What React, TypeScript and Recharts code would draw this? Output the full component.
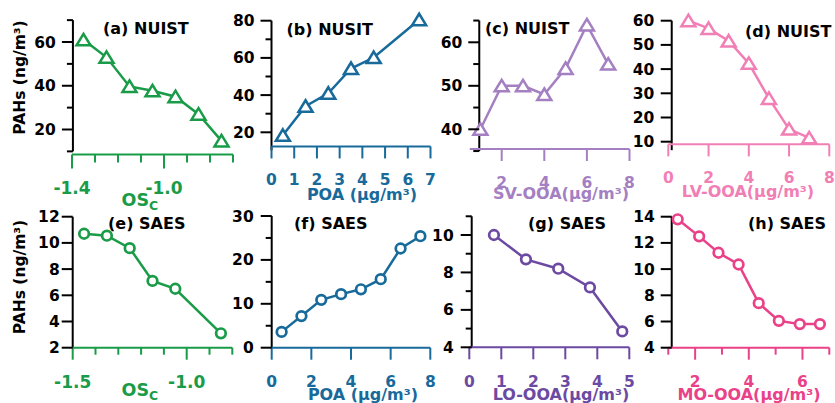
import React from "react";
import { LineChart, Line, XAxis, YAxis, ReferenceLine } from "recharts";

const W = 835;
const H = 403;
const FONT = "'DejaVu Sans', Verdana, sans-serif";

// ---- data ----
// (a) NUIST vs OSc
const osA = [-1.35, -1.25, -1.15, -1.05, -0.95, -0.85, -0.75];
const pahA = [61, 53, 39.7, 37.7, 35, 27, 14.8];
// (b) NUSIT vs POA
const poaB = [0.5, 1.5, 2.5, 3.5, 4.5, 6.5];
const pahB = [18.4, 34, 41, 54.3, 60.2, 80.5];
// (c) NUIST vs SV-OOA
const svC = [1, 2, 3, 4, 5, 6, 7];
const pahC = [40, 50, 50, 48, 54, 64, 55];
// (d) NUIST vs LV-OOA
const lvD = [1, 2, 3, 4, 5, 6, 7];
const pahD = [60, 56.8, 51.6, 42.4, 27.9, 15.2, 11.6];
// (e) SAES vs OSc
const osE = [-1.45, -1.35, -1.25, -1.15, -1.05, -0.85];
const pahE = [10.7, 10.55, 9.6, 7.1, 6.5, 3.1];
// (f) SAES vs POA
const poaF = [0.5, 1.5, 2.5, 3.5, 4.5, 5.5, 6.5, 7.5];
const pahF = [3.6, 7.2, 10.9, 12.2, 13.3, 15.6, 22.6, 25.4];
// (g) SAES vs LO-OOA
const loG = [0.77, 1.77, 2.78, 3.77, 4.78];
const pahG = [10, 8.7, 8.2, 7.2, 4.85];
// (h) SAES vs MO-OOA
const moH = [1.35, 2.15, 2.87, 3.62, 4.37, 5.12, 5.9, 6.65];
const pahH = [13.8, 12.5, 11.25, 10.35, 7.4, 6.05, 5.8, 5.8];

// ---- ticks ----
const ticksXA = [-1.4, -1.3, -1.2, -1.1, -1.0, -0.9, -0.8, -0.7];
const labelsXA = [-1.4, -1.0];
const ticksYA = [10, 20, 30, 40, 50, 60, 70];
const labelsYA = [20, 40, 60];
const ticksXB = [0, 1, 2, 3, 4, 5, 6, 7];
const ticksYB = [20, 30, 40, 50, 60, 70, 80];
const labelsYB = [20, 40, 60, 80];
const ticksXC = [2, 4, 6, 8];
const ticksYC = [35, 40, 45, 50, 55, 60, 65];
const labelsYC = [40, 50, 60];
const ticksXD = [0, 2, 4, 6, 8];
const ticksYD = [10, 20, 30, 40, 50, 60];
const ticksXE = [-1.5, -1.4, -1.3, -1.2, -1.1, -1.0, -0.9, -0.8];
const labelsXE = [-1.5, -1.0];
const ticksYE = [2, 4, 6, 8, 10, 12];
const ticksXF = [0, 2, 4, 6, 8];
const ticksYF = [0, 5, 10, 15, 20, 25, 30];
const labelsYF = [0, 10, 20, 30];
const ticksXG = [0, 1, 2, 3, 4, 5];
const ticksYG = [4, 5, 6, 7, 8, 9, 10, 11];
const labelsYG = [4, 6, 8, 10];
const ticksXH = [1, 2, 3, 4, 5, 6, 7];
const labelsXH = [2, 4, 6];
const ticksYH = [4, 6, 8, 10, 12, 14];

const GREEN = "#199b48";
const BLUE = "#186a9b";
const LILAC = "#a47fc2";
const PINK = "#f17fb5";
const PURPLE = "#6c4aa2";
const MAGENTA = "#e94289";

type Cal = [number, number, number, number];

interface PanelCfg {
  xs: number[];
  ys: number[];
  color: string;
  marker: "tri" | "circle";
  xCal: Cal;
  yCal: Cal;
  rect: [number, number, number, number];
  yAxisAt: number;
  yAxisSpan: [number, number];
  xAxisAt: number;
  xAxisSpan: [number, number];
  xTicks: number[];
  xLabeled: number[];
  yTicks: number[];
  yLabeled: number[];
  xMajorLen: number;
  xMinorLen: number;
  xLabelDy: number;
  xFont: number;
  yLabelGap: number;
  decimals: number;
}

function lin(cal: Cal) {
  const [v1, p1, v2, p2] = cal;
  const k = (p2 - p1) / (v2 - v1);
  return {
    toPx: (v: number) => p1 + (v - v1) * k,
    toVal: (p: number) => v1 + (p - p1) / k,
  };
}

const has = (arr: number[], v: number) => arr.some((a) => Math.abs(a - v) < 1e-6);

const panels: PanelCfg[] = [
  {
    xs: osA, ys: pahA, color: GREEN, marker: "tri",
    xCal: [-1.4, 72, -1.0, 164], yCal: [60, 42, 20, 129.5],
    rect: [62, 10, 240, 160],
    yAxisAt: -1.396, yAxisSpan: [10, 70], xAxisAt: 8.57, xAxisSpan: [-1.4, -0.7],
    xTicks: ticksXA, xLabeled: labelsXA, yTicks: ticksYA, yLabeled: labelsYA,
    xMajorLen: 14, xMinorLen: 8, xLabelDy: 39.5, xFont: 17, yLabelGap: 17, decimals: 1,
  },
  {
    xs: poaB, ys: pahB, color: BLUE, marker: "tri",
    xCal: [0, 271.5, 7, 430.5], yCal: [80, 20.7, 20, 132.3],
    rect: [262, 8, 440, 152],
    yAxisAt: 0, yAxisSpan: [10.3, 80], xAxisAt: 12.4, xAxisSpan: [0, 7],
    xTicks: ticksXB, xLabeled: ticksXB, yTicks: ticksYB, yLabeled: labelsYB,
    xMajorLen: 12, xMinorLen: 12, xLabelDy: 38.5, xFont: 15.5, yLabelGap: 17, decimals: 0,
  },
  {
    xs: svC, ys: pahC, color: LILAC, marker: "tri",
    xCal: [2, 501.7, 8, 629.5], yCal: [60, 42.3, 40, 129.3],
    rect: [462, 10, 640, 153],
    yAxisAt: 0.947, yAxisSpan: [35, 65], xAxisAt: 35.47, xAxisSpan: [0.5, 8],
    xTicks: ticksXC, xLabeled: ticksXC, yTicks: ticksYC, yLabeled: labelsYC,
    xMajorLen: 12, xMinorLen: 12, xLabelDy: 38.5, xFont: 15.5, yLabelGap: 17, decimals: 0,
  },
  {
    xs: lvD, ys: pahD, color: PINK, marker: "tri",
    xCal: [0, 668.3, 8, 829.3], yCal: [60, 20.7, 10, 141.7],
    rect: [660, 8, 835, 153],
    yAxisAt: 0.17, yAxisSpan: [6.5, 60], xAxisAt: 8.9, xAxisSpan: [0, 8],
    xTicks: ticksXD, xLabeled: ticksXD, yTicks: ticksYD, yLabeled: ticksYD,
    xMajorLen: 12, xMinorLen: 12, xLabelDy: 39, xFont: 15.5, yLabelGap: 17.5, decimals: 0,
  },
  {
    xs: osE, ys: pahE, color: GREEN, marker: "circle",
    xCal: [-1.5, 72.7, -1.0, 186.7], yCal: [12, 216.7, 2, 347.7],
    rect: [62, 206, 240, 352],
    yAxisAt: -1.5, yAxisSpan: [2, 12], xAxisAt: 2, xAxisSpan: [-1.5, -0.8],
    xTicks: ticksXE, xLabeled: labelsXE, yTicks: ticksYE, yLabeled: ticksYE,
    xMajorLen: 12, xMinorLen: 7, xLabelDy: 40.3, xFont: 17, yLabelGap: 13, decimals: 1,
  },
  {
    xs: poaF, ys: pahF, color: BLUE, marker: "circle",
    xCal: [0, 271.7, 8, 430.3], yCal: [30, 216, 0, 347.7],
    rect: [262, 206, 440, 352],
    yAxisAt: 0, yAxisSpan: [0, 30], xAxisAt: 0, xAxisSpan: [0, 8],
    xTicks: ticksXF, xLabeled: ticksXF, yTicks: ticksYF, yLabeled: labelsYF,
    xMajorLen: 12, xMinorLen: 12, xLabelDy: 39, xFont: 15.5, yLabelGap: 18, decimals: 0,
  },
  {
    xs: loG, ys: pahG, color: PURPLE, marker: "circle",
    xCal: [0, 469.3, 5, 629.3], yCal: [10, 235, 4, 347.3],
    rect: [460, 206, 640, 352],
    yAxisAt: 0.075, yAxisSpan: [4, 11], xAxisAt: 4, xAxisSpan: [0, 5],
    xTicks: ticksXG, xLabeled: ticksXG, yTicks: ticksYG, yLabeled: labelsYG,
    xMajorLen: 12, xMinorLen: 12, xLabelDy: 39.4, xFont: 15.5, yLabelGap: 18, decimals: 0,
  },
  {
    xs: moH, ys: pahH, color: MAGENTA, marker: "circle",
    xCal: [1, 668.3, 7, 829.3], yCal: [14, 216.7, 4, 347.7],
    rect: [660, 206, 835, 352],
    yAxisAt: 1.127, yAxisSpan: [4, 14], xAxisAt: 4, xAxisSpan: [1, 7],
    xTicks: ticksXH, xLabeled: labelsXH, yTicks: ticksYH, yLabeled: ticksYH,
    xMajorLen: 12, xMinorLen: 7, xLabelDy: 39.4, xFont: 15.5, yLabelGap: 17, decimals: 0,
  },
];

function Panel({ cfg }: { cfg: PanelCfg }) {
  const fx = lin(cfg.xCal);
  const fy = lin(cfg.yCal);
  const [l, t, r, b] = cfg.rect;
  const xDomain = [fx.toVal(l), fx.toVal(r)];
  const yDomain = [fy.toVal(b), fy.toVal(t)];
  const yAxisPx = fx.toPx(cfg.yAxisAt);
  const xAxisPy = fy.toPx(cfg.xAxisAt);
  const data = cfg.xs.map((x, i) => ({ x, y: cfg.ys[i] }));

  const xTick = (p: any) => {
    const v = p.payload.value;
    const cx = p.payload.coordinate ?? p.x;
    const major = has(cfg.xLabeled, v);
    const len = major ? cfg.xMajorLen : cfg.xMinorLen;
    return (
      <g key={`xt${p.index}`}>
        <line x1={cx} x2={cx} y1={xAxisPy} y2={xAxisPy + len} stroke={cfg.color} strokeWidth={2} />
        {major && (
          <text x={cx} y={xAxisPy + cfg.xLabelDy} textAnchor="middle" fill={cfg.color}
            fontFamily={FONT} fontWeight="bold" fontSize={cfg.xFont}>
            {v.toFixed(cfg.decimals)}
          </text>
        )}
      </g>
    );
  };

  const yTick = (p: any) => {
    const v = p.payload.value;
    const cy = p.payload.coordinate ?? p.y;
    const major = has(cfg.yLabeled, v);
    const len = major ? 11 : 6;
    return (
      <g key={`yt${p.index}`}>
        <line x1={yAxisPx - len} x2={yAxisPx} y1={cy} y2={cy} stroke="#000" strokeWidth={2} />
        {major && (
          <text x={yAxisPx - cfg.yLabelGap} y={cy} dy="0.36em" textAnchor="end" fill="#000"
            fontFamily={FONT} fontWeight="bold" fontSize={15.5}>
            {v}
          </text>
        )}
      </g>
    );
  };

  const dot = (p: any) => {
    const { cx, cy } = p;
    if (cfg.marker === "tri") {
      return (
        <path key={`d${p.index}`} d={`M${cx},${cy - 6} L${cx + 7},${cy + 5.5} L${cx - 7},${cy + 5.5} Z`}
          fill="#fff" stroke={cfg.color} strokeWidth={2.5} strokeLinejoin="miter" />
      );
    }
    return <circle key={`d${p.index}`} cx={cx} cy={cy} r={4.8} fill="#fff" stroke={cfg.color} strokeWidth={2.7} />;
  };

  // axes are 1px thick so that Recharts still renders their ticks
  return (
    <div style={{ position: "absolute", left: 0, top: 0 }}>
      <LineChart width={W} height={H} data={data}
        margin={{ left: l - 1, top: t, right: W - r, bottom: H - b - 1 }}>
        <XAxis dataKey="x" type="number" domain={xDomain} ticks={cfg.xTicks} interval={0}
          height={1} axisLine={false} tickLine={false} allowDataOverflow tick={xTick} />
        <YAxis type="number" domain={yDomain} ticks={cfg.yTicks} interval={0}
          width={1} axisLine={false} tickLine={false} allowDataOverflow tick={yTick} />
        <ReferenceLine ifOverflow="visible" stroke="#000" strokeWidth={2}
          segment={[{ x: cfg.yAxisAt, y: cfg.yAxisSpan[0] }, { x: cfg.yAxisAt, y: cfg.yAxisSpan[1] }]} />
        <ReferenceLine ifOverflow="visible" stroke={cfg.color} strokeWidth={2}
          segment={[{ x: cfg.xAxisSpan[0], y: cfg.xAxisAt }, { x: cfg.xAxisSpan[1], y: cfg.xAxisAt }]} />
        <Line dataKey="y" stroke={cfg.color} strokeWidth={2.5} dot={dot} activeDot={false}
          isAnimationActive={false} />
      </LineChart>
    </div>
  );
}

const titles = [
  { text: "(a) NUIST", x: 103, y: 33.5 },
  { text: "(b) NUSIT", x: 286.5, y: 35 },
  { text: "(c) NUIST", x: 485, y: 33.5 },
  { text: "(d) NUIST", x: 745, y: 36.5 },
  { text: "(e) SAES", x: 108, y: 228.5 },
  { text: "(f) SAES", x: 294, y: 228.5 },
  { text: "(g) SAES", x: 528, y: 228.5 },
  { text: "(h) SAES", x: 748, y: 228.5 },
];

const axisTitles = [
  { text: "POA (µg/m³)", x: 362, y: 200, color: BLUE },
  { text: "SV-OOA(µg/m³)", x: 561, y: 198.5, color: LILAC },
  { text: "LV-OOA(µg/m³)", x: 748, y: 196.5, color: PINK },
  { text: "POA (µg/m³)", x: 363, y: 400, color: BLUE },
  { text: "LO-OOA(µg/m³)", x: 561, y: 400, color: PURPLE },
  { text: "MO-OOA(µg/m³)", x: 749, y: 400, color: MAGENTA },
];

function Overlay() {
  const bold = { fontFamily: FONT, fontWeight: "bold" as const };
  return (
    <svg width={W} height={H} style={{ position: "absolute", left: 0, top: 0, pointerEvents: "none" }}>
      {titles.map((t) => (
        <text key={t.text} x={t.x} y={t.y} fontSize={16} fill="#000" {...bold}>{t.text}</text>
      ))}
      {axisTitles.map((t, i) => (
        <text key={i} x={t.x} y={t.y} fontSize={16} fill={t.color} textAnchor="middle" {...bold}>{t.text}</text>
      ))}
      {[206, 396].map((y) => (
        <text key={y} x={121.5} y={y} fontSize={17.5} fill={GREEN} {...bold}>
          OS<tspan dy={4} fontSize={12.5}>C</tspan>
        </text>
      ))}
      {[77.5, 277].map((y) => (
        <text key={y} transform={`translate(25,${y}) rotate(-90)`} textAnchor="middle" fontSize={15.5} fill="#000" {...bold}>
          PAHs (ng/m³)
        </text>
      ))}
    </svg>
  );
}

export default function App() {
  return (
    <div style={{ position: "absolute", left: 0, top: 0, width: W, height: H, background: "#fff", overflow: "hidden" }}>
      {panels.map((cfg, i) => (
        <Panel key={i} cfg={cfg} />
      ))}
      <Overlay />
    </div>
  );
}
